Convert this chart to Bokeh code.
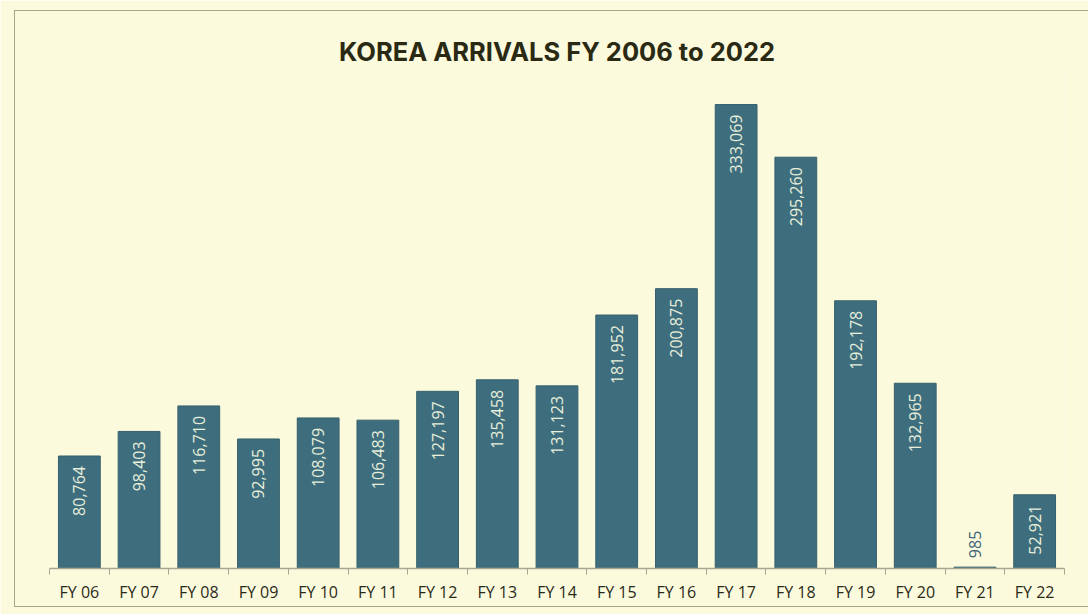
import numpy as np
from bokeh.plotting import figure
from bokeh.models import ColumnDataSource, FixedTicker, Range1d, InlineStyleSheet
from bokeh.core.properties import value
from bokeh.embed import file_html
from bokeh.resources import INLINE

categories = ["FY 06", "FY 07", "FY 08", "FY 09", "FY 10", "FY 11", "FY 12", "FY 13", "FY 14",
              "FY 15", "FY 16", "FY 17", "FY 18", "FY 19", "FY 20", "FY 21", "FY 22"]
arrivals = [80764, 98403, 116710, 92995, 108079, 106483, 127197, 135458, 131123,
            181952, 200875, 333069, 295260, 192178, 132965, 985, 52921]

BG = "#FCFADC"
BAR = "#3E6E7E"

n = len(categories)
xs = np.arange(n)
labels = [f"{v:,}" for v in arrivals]

src = ColumnDataSource(dict(x=xs, top=arrivals, label=labels))
inside_idx = [i for i, v in enumerate(arrivals) if v >= 20000]
outside_idx = [i for i, v in enumerate(arrivals) if v < 20000]
src_in = ColumnDataSource(dict(x=[xs[i] for i in inside_idx], y=[arrivals[i] for i in inside_idx],
                               label=[labels[i] for i in inside_idx]))
src_out = ColumnDataSource(dict(x=[xs[i] for i in outside_idx], y=[arrivals[i] for i in outside_idx],
                                label=[labels[i] for i in outside_idx]))

p = figure(width=1088, height=614, output_backend="svg", toolbar_location=None,
           x_range=Range1d(-0.5, n - 0.5), y_range=Range1d(0, 357500),
           title="KOREA ARRIVALS FY 2006 to 2022",
           min_border_left=49, min_border_right=24, min_border_top=70, min_border_bottom=46)

p.background_fill_color = BG
p.border_fill_color = BG
p.outline_line_color = None
p.grid.visible = False
p.yaxis.visible = False
p.stylesheets = [InlineStyleSheet(css="""
:host::after {
  content: '';
  position: absolute;
  left: 14px; top: 10px; right: 0px; bottom: 7px;
  border: 1.5px solid #A8A690;
  border-right: none;
  pointer-events: none;
  z-index: 100;
}
""")]

p.title.align = "center"
p.title.text_font = "Inter"
p.title.text_font_size = "25.5px"
p.title.text_font_style = "bold"
p.title.text_color = "#2A2A14"
p.title.standoff = 8

p.vbar(x="x", top="top", width=0.7, bottom=0, source=src, fill_color=BAR,
       line_color="#36606E", line_width=1)

p.text(x="x", y="y", text="label", source=src_in, angle=np.pi / 2,
       text_align="right", text_baseline="middle", y_offset=10,
       text_font=value("Open Sans"), text_font_size="16px", text_color="#E8EFDA")
p.text(x="x", y="y", text="label", source=src_out, angle=np.pi / 2,
       text_align="left", text_baseline="middle", y_offset=-9,
       text_font=value("Open Sans"), text_font_size="16px", text_color="#3E6478")

ax = p.xaxis[0]
ax.ticker = FixedTicker(ticks=list(xs), minor_ticks=list(np.arange(n + 1) - 0.5))
ax.major_label_overrides = {int(i): c for i, c in zip(xs, categories)}
ax.major_tick_line_color = None
ax.major_tick_out = 0
ax.minor_tick_line_color = "#A8A690"
ax.minor_tick_out = 6
ax.minor_tick_in = 0
ax.axis_line_color = "#A8A690"
ax.axis_line_width = 1.5
ax.major_label_text_font = "Open Sans"
ax.major_label_text_font_size = "16px"
ax.major_label_text_color = "#2A2A1A"
ax.major_label_standoff = 6

open("out.html", "w").write(file_html(p, INLINE))
